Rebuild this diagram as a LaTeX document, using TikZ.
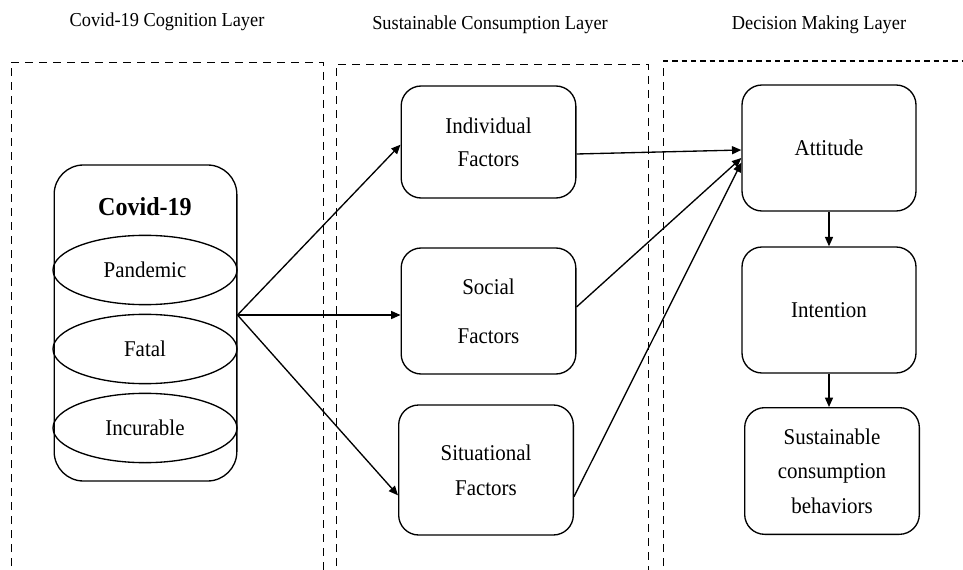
\documentclass[tikz,border=0pt]{standalone}
\usepackage{fontspec}
\setmainfont[FakeStretch=0.93]{Liberation Serif}
\usetikzlibrary{arrows.meta,shapes.geometric}

\tikzset{
    layer/.style={dash pattern=on 6pt off 4.5pt, line width=0.6pt},
    title/.style={font=\fontsize{14.8}{17}\selectfont},
    factor/.style={draw, rounded corners=15pt, line width=1pt, align=center,
        minimum width=131pt, font=\fontsize{16.9}{24.5}\selectfont},
    trait/.style={draw, ellipse, line width=1pt, inner sep=0pt,
        minimum width=138pt, minimum height=52pt, font=\fontsize{16.9}{19}\selectfont},
    link/.style={-{Triangle[length=7pt,width=6pt]}, line width=1pt}
}

\begin{document}
\begin{tikzpicture}[x=0.75pt,y=-0.75pt]
    \path[use as bounding box] (0,0) rectangle (963,570);
    \clip (0,0) rectangle (963,570);
    %Layers
        \draw[layer] (11,580) -- (11,62) -- (323,62) -- (323,580);
        \draw[layer] (336,580) -- (336,64) -- (648,64) -- (648,580);
        \draw[layer] (663,580) -- (663,61);
        \draw[layer, line width=1.3pt, dash pattern=on 4pt off 3pt] (663,61) -- (970,61);
        \node[title] (cogtitle) at (167,22) {Covid-19 Cognition Layer};
        \node[title] (contitle) at (490,25) {Sustainable Consumption Layer};
        \node[title] (dectitle) at (819,25) {Decision Making Layer};
    %Covid-19
        \node[draw, rounded corners=22pt, line width=1pt, minimum width=137pt, minimum height=237pt] (covid) at (145.5,323) {};
        \node[font=\bfseries\fontsize{19.4}{21}\selectfont] (covidname) at (145,207) {Covid-19};
        \node[trait] (pandemic) at (145,270) {Pandemic};
        \node[trait] (fatal) at (145,349) {Fatal};
        \node[trait] (incurable) at (145,428) {Incurable};
    %Factors
        \node[factor, minimum height=84pt] (indiv) at (488.5,142) {Individual\\Factors};
        \node[factor, minimum height=94.5pt] (social) at (488.5,311) {Social\\[12pt]Factors};
        \node[factor, minimum height=97.5pt] (situ) at (486,470) {Situational\\[2pt]Factors};
    %Decision
        \node[factor, minimum width=130.5pt, minimum height=94.5pt] (attitude) at (829,148) {Attitude};
        \node[factor, minimum width=130.5pt, minimum height=94.5pt] (intention) at (829,310) {Intention};
        \node[factor, minimum height=95pt, font=\fontsize{16.9}{26}\selectfont] (behave) at (832,471) {Sustainable\\consumption\\behaviors};
    %Arrows
        \draw[link] ([yshift=6pt]covid.east) -- ([yshift=-2pt]indiv.west);
        \draw[link] ([yshift=6pt]covid.east) -- ([yshift=-3pt]social.west);
        \draw[link] ([yshift=6pt]covid.east) -- ([yshift=-19pt]situ.west);

        \draw[link] ([yshift=-9pt]indiv.east) -- ([yshift=-1.5pt]attitude.west);
        \draw[link] ([yshift=3pt]social.east) -- ([yshift=-7.5pt]attitude.west);
        \draw[link] ([yshift=-20pt]situ.east) -- ([yshift=-11pt]attitude.west);

        \draw[link] (attitude.south) -- (intention.north);
        \draw[link] (intention.south) -- (intention.south |- behave.north);
\end{tikzpicture}
\end{document}
